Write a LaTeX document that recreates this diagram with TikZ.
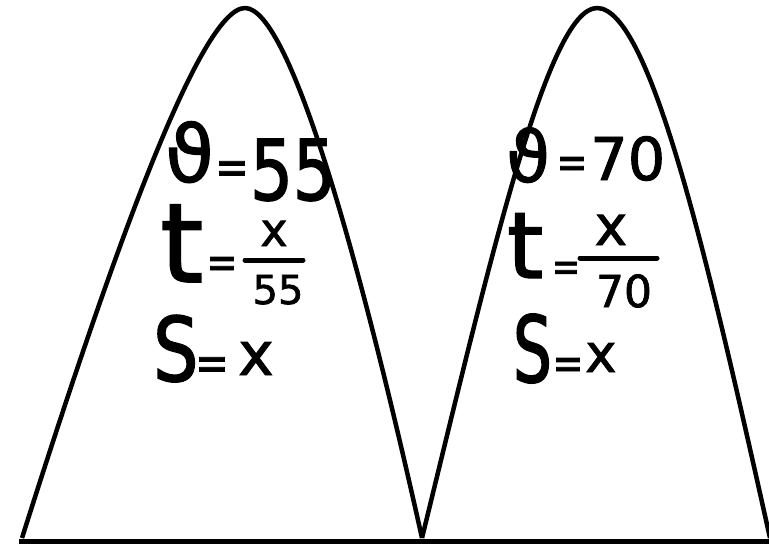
\documentclass[tikz,border=0pt]{standalone}
\usepackage{fontspec}
\newfontfamily\handfont[FakeStretch=0.8, FakeBold=1.6]{DejaVu Sans}
\newfontfamily\handwide[FakeBold=1.6]{DejaVu Sans}
\newfontfamily\handnarrow[FakeStretch=0.66, FakeBold=1.6]{DejaVu Sans}
\newcommand\fsz[1]{\fontsize{#1}{#1}\selectfont}

\begin{document}
\begin{tikzpicture}[
  x=1pt, y=-1pt,
  arch/.style={line width=4.5pt, line join=round},
  ground/.style={line width=5pt},
  fracbar/.style={line width=5pt, line cap=round},
  hw/.style={inner sep=0pt, anchor=base west},
  hwc/.style={inner sep=0pt, anchor=base}
]
  \fill[white] (0,0) rectangle (769,544);
  \useasboundingbox (0,0) rectangle (769,544);

  % ── Ground line and the two arches ──
  \draw[ground] (19,541) -- (769,541);
  \draw[arch] (22,538) .. controls (110,260) and (200,8) .. (245,8)
                       .. controls (290,8) and (360,260) .. (422,538);
  \draw[arch] (422,538) .. controls (490,260) and (548,8) .. (597,8)
                        .. controls (650,8) and (708,260) .. (770,538);

  % ── Left arch: v = 55 ──
  \node[hw, font=\handwide\fsz{79}] (v1) at (165,182) {ϑ};
  \node[hwc, font=\handfont\fsz{50}] (eqv1) at (232,184) {=};
  \node[hw, font=\handfont\fsz{84}] (val1) at (250,200) {55};

  \node[hw, font=\handwide\fsz{110}] (t1) at (160,282) {t};
  \node[hwc, font=\handfont\fsz{46}] (eqt1) at (222,278) {=};
  \node[hwc, font=\handwide\fsz{46}] (num1) at (274,246) {x};
  \node[hwc, font=\handwide\fsz{40}] (den1) at (278,304) {55};
  \draw[fracbar] (245,260) -- (303,260);

  \node[hw, font=\handfont\fsz{89}] (s1) at (153,381) {S};
  \node[hwc, font=\handfont\fsz{50}] (eqs1) at (212,380) {=};
  \node[hw, font=\handwide\fsz{60}] (x1) at (238,375) {x};

  % ── Right arch: v = 70 ──
  \node[hw, font=\handwide\fsz{71}] (v2) at (506,182) {ϑ};
  \node[hwc, font=\handfont\fsz{46}] (eqv2) at (572,178) {=};
  \node[hw, font=\handwide\fsz{59}] (val2) at (590,180) {70};

  \node[hw, font=\handwide\fsz{92}] (t2) at (507,278) {t};
  \node[hwc, font=\handfont\fsz{42}] (eqt2) at (566,281) {=};
  \node[hwc, font=\handwide\fsz{55}] (num2) at (611,245) {x};
  \node[hwc, font=\handwide\fsz{44}] (den2) at (624,307) {70};
  \draw[fracbar] (580,258) -- (657,258);

  \node[hw, font=\handnarrow\fsz{92}] (s2) at (513,382) {S};
  \node[hwc, font=\handfont\fsz{46}] (eqs2) at (568,379) {=};
  \node[hw, font=\handwide\fsz{53}] (x2) at (585,372) {x};
\end{tikzpicture}
\end{document}
